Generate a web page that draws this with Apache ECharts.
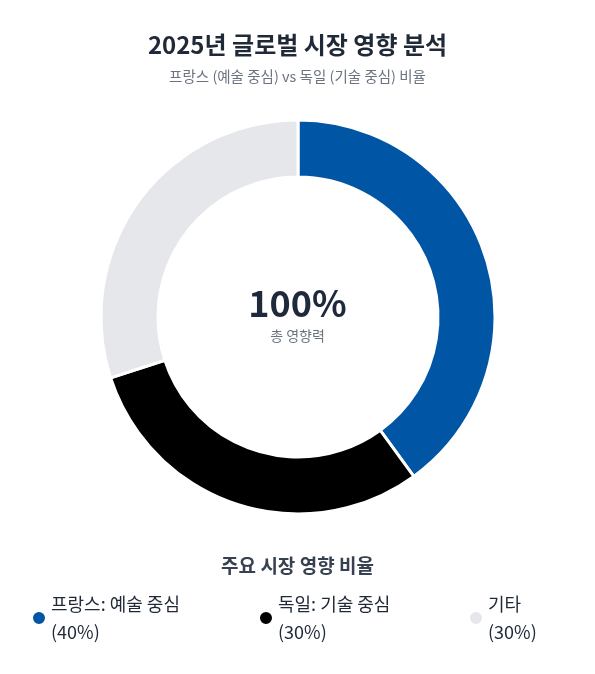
<!DOCTYPE html>
<html>
<head>
<meta charset="utf-8">
<script src="https://cdn.jsdelivr.net/npm/echarts@6/dist/echarts.min.js"></script>
<style>
  html, body { margin: 0; padding: 0; background: #fff; }
  #container { width: 595px; height: 674px; }
</style>
</head>
<body>
<div id="container"></div>
<script>
var categories = ['프랑스: 예술 중심', '독일: 기술 중심', '기타'];
var values = [40, 30, 30];
var palette = ['#0055a4', '#000000', '#e5e7eb'];
var legendLeft = [26, 253, 463];

var FONT = '"Noto Sans CJK KR", "Noto Sans", sans-serif';

function printChart() {
    var dom = document.getElementById('container');
    var myChart = echarts.init(dom);

    var pieData = categories.map(function (name, i) {
        return { name: name, value: values[i], itemStyle: { color: palette[i] } };
    });

    var legends = categories.map(function (name, i) {
        return {
            data: [name],
            left: legendLeft[i],
            top: 585,
            orient: 'horizontal',
            icon: 'circle',
            itemWidth: 14,
            itemHeight: 14,
            selectedMode: false,
            formatter: function (n) {
                var idx = categories.indexOf(n);
                return n + '\n(' + values[idx] + '%)';
            },
            textStyle: {
                fontFamily: FONT,
                fontSize: 18,
                color: '#1f2937',
                lineHeight: 28
            }
        };
    });

    var option = {
        backgroundColor: '#ffffff',
        title: [
            {
                text: '2025년 글로벌 시장 영향 분석',
                subtext: '프랑스 (예술 중심) vs 독일 (기술 중심) 비율',
                left: 'center',
                top: 28,
                itemGap: 12,
                textStyle: {
                    fontFamily: FONT,
                    fontSize: 24,
                    fontWeight: 'bold',
                    color: '#1f2937'
                },
                subtextStyle: {
                    fontFamily: FONT,
                    fontSize: 14.5,
                    color: '#6b7280'
                }
            },
            {
                text: '100%',
                subtext: '총 영향력',
                left: 'center',
                top: 280,
                itemGap: 8,
                textStyle: {
                    fontFamily: FONT,
                    fontSize: 36,
                    fontWeight: 'bold',
                    color: '#1e293b'
                },
                subtextStyle: {
                    fontFamily: FONT,
                    fontSize: 14,
                    color: '#6b7280'
                }
            },
            {
                text: '주요 시장 영향 비율',
                left: 'center',
                top: 551,
                textStyle: {
                    fontFamily: FONT,
                    fontSize: 19,
                    fontWeight: 'bold',
                    color: '#374151'
                }
            }
        ],
        legend: legends,
        series: [
            {
                type: 'pie',
                center: [298, 317],
                radius: [140, 197],
                startAngle: 90,
                clockwise: true,
                avoidLabelOverlap: false,
                label: { show: false },
                labelLine: { show: false },
                emphasis: { disabled: true },
                itemStyle: {
                    borderColor: '#ffffff',
                    borderWidth: 3
                },
                data: pieData
            }
        ]
    };

    myChart.setOption(option, true);
}

printChart();
</script>
</body>
</html>
